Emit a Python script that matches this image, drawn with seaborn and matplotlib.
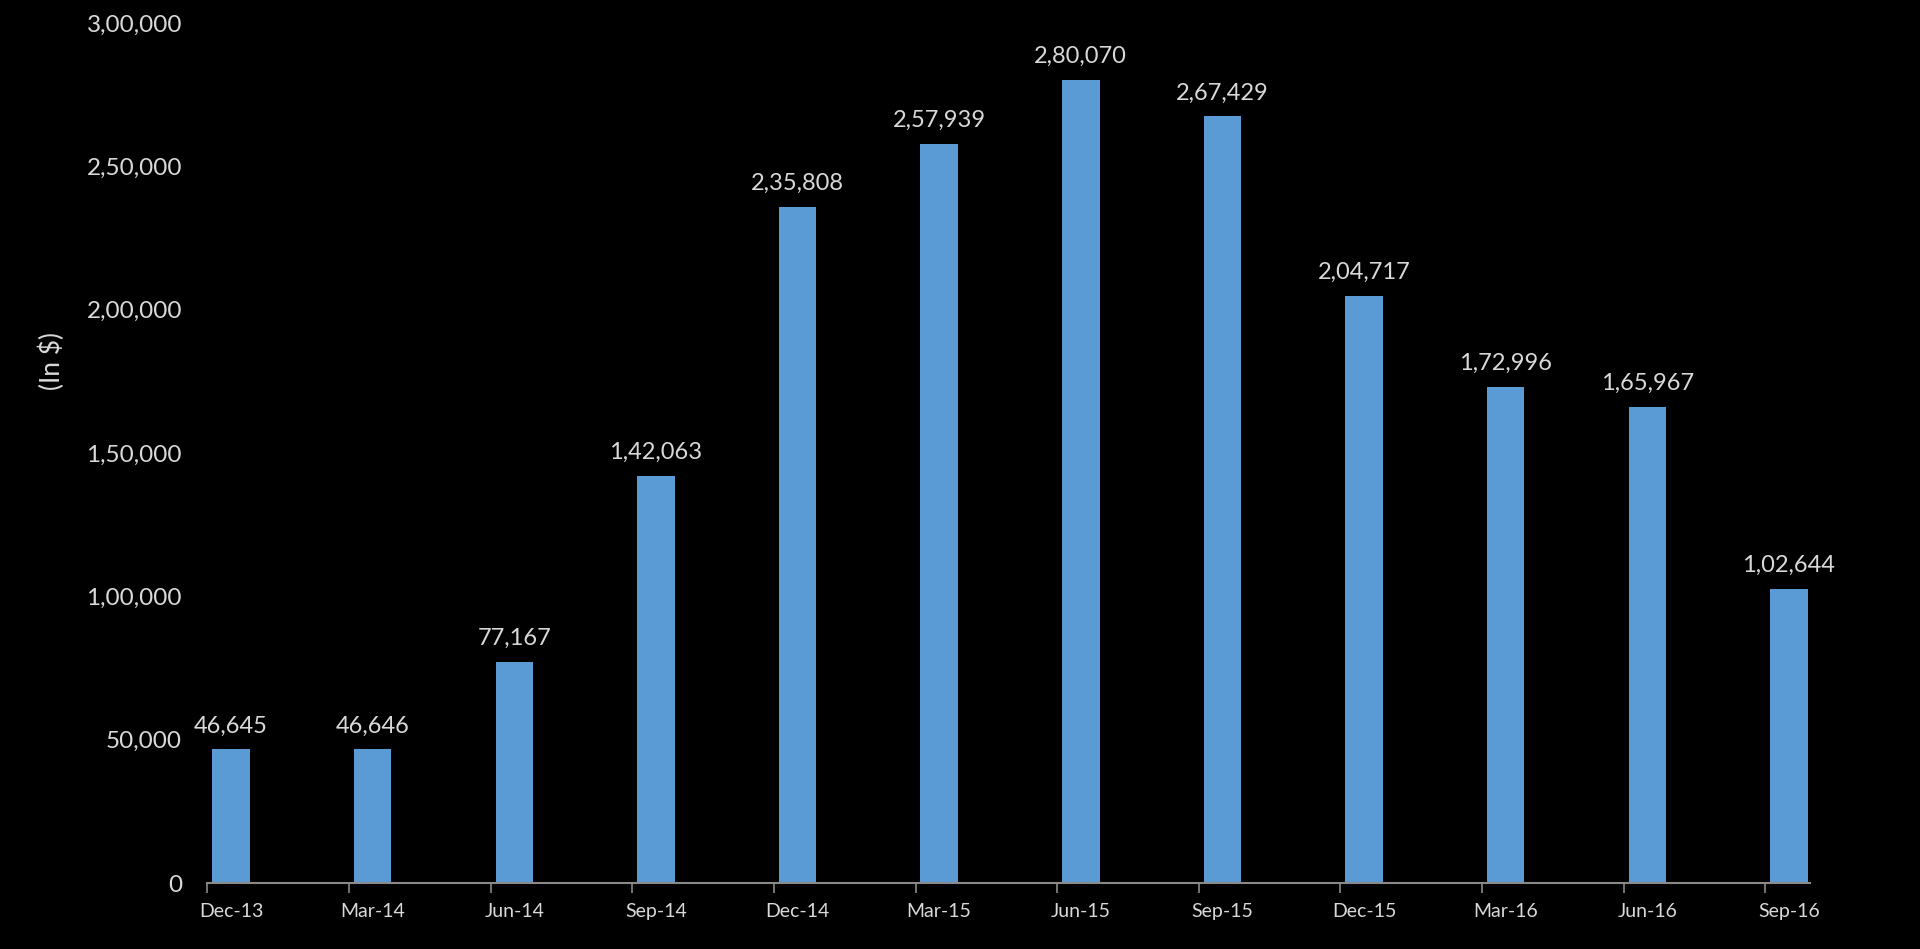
import pandas as pd
import matplotlib.pyplot as plt
import seaborn as sns

quarters = ['Dec-13', 'Mar-14', 'Jun-14', 'Sep-14', 'Dec-14', 'Mar-15',
            'Jun-15', 'Sep-15', 'Dec-15', 'Mar-16', 'Jun-16', 'Sep-16']
values = [46645, 46646, 77167, 142063, 235808, 257939,
          280070, 267429, 204717, 172996, 165967, 102644]
y_ticks = [0, 50000, 100000, 150000, 200000, 250000, 300000]

sns.set_theme(style='white')
plt.rcParams['font.family'] = ['Lato', 'DejaVu Sans']
txt = '#d9d9d9'


def indian(n):
    # lakh style grouping: 2,80,070
    s = str(int(n))
    if len(s) <= 3:
        return s
    head, tail = s[:-3], s[-3:]
    parts = []
    while len(head) > 2:
        parts.insert(0, head[-2:])
        head = head[:-2]
    if head:
        parts.insert(0, head)
    return ','.join(parts) + ',' + tail


df = pd.DataFrame({'quarter': quarters, 'value': values})

fig = plt.figure(figsize=(19.2, 9.49), dpi=100, facecolor='black')
ax = fig.add_axes([0.1078, 0.0695, 0.835, 0.9063])
ax.set_facecolor('black')

sns.barplot(data=df, x='quarter', y='value', color='#5b9bd5', width=0.265,
            saturation=1, linewidth=0, ax=ax)

for i, v in enumerate(values):
    ax.text(i, v + 4500, indian(v), ha='center', va='bottom', color=txt, fontsize=17)

ax.set_ylim(0, 300000)
ax.set_xlim(-0.17, 11.15)
ax.set_yticks(y_ticks)
ax.set_yticklabels([indian(t) for t in y_ticks], color=txt, fontsize=17.5)
ax.tick_params(axis='y', length=0, pad=18)

# ticks sit just left of each bar, labels centred under bars
ax.set_xticks([i - 0.167 for i in range(len(quarters))])
ax.set_xticklabels([])
ax.tick_params(axis='x', bottom=True, length=7, width=1.2, color='#8a8a8a', direction='out')
for i, q in enumerate(quarters):
    ax.text(i, -7000, q, ha='center', va='top', color=txt, fontsize=14)

for s in ['top', 'right', 'left']:
    ax.spines[s].set_visible(False)
ax.spines['bottom'].set_color('#8a8a8a')
ax.spines['bottom'].set_linewidth(1.5)
ax.set_xlabel('')
ax.set_ylabel('')

fig.text(0.027, 0.62, '(In $)', rotation=90, ha='center', va='center', color=txt, fontsize=19)

plt.savefig('out.png', dpi=100, facecolor='black')
